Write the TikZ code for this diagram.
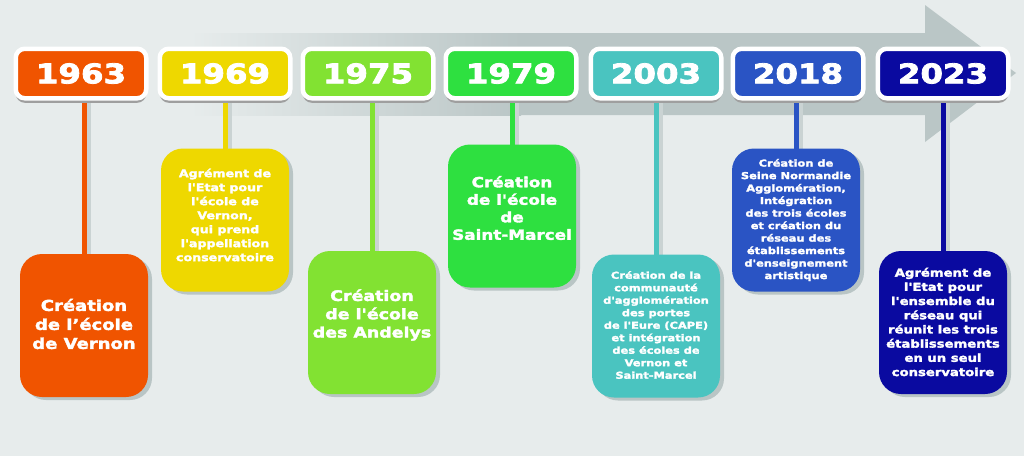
\documentclass[tikz,border=0pt]{standalone}
\usepackage{fontspec}
\newfontfamily\tlfont{DejaVu Sans Bold}[FakeStretch=1.2,FakeBold=2.4]
\newfontfamily\yrfont{DejaVu Sans Bold}[FakeStretch=1.2,FakeBold=3]
\usetikzlibrary{shadows}
\definecolor{bgc}{HTML}{E7ECEC}
\definecolor{arr}{HTML}{BAC6C6}
\definecolor{shd}{HTML}{B9C5C5}
\definecolor{stshd}{HTML}{CAD3D3}
\definecolor{cA}{HTML}{F05400}
\definecolor{cB}{HTML}{EED800}
\definecolor{cC}{HTML}{82E232}
\definecolor{cD}{HTML}{2EE040}
\definecolor{cE}{HTML}{4AC4C0}
\definecolor{cF}{HTML}{2A54C4}
\definecolor{cG}{HTML}{0A0AA0}
\pgfdeclarelayer{back}
\pgfdeclarelayer{mid}
\pgfsetlayers{back,mid,main}
\tikzset{
 yearbox/.style={fill=#1, draw=white, line width=4.5pt, rounded corners=9pt,
   minimum width=130.5pt, minimum height=49.5pt, inner sep=0pt, text=white,
   font=\yrfont\fontsize{27}{27}\selectfont,
   drop shadow={shadow xshift=0pt, shadow yshift=-4.5pt, fill=gray!75, opacity=1}},
 infobox/.style={fill=#1, rounded corners=22pt, minimum width=128pt,
   minimum height=143pt, inner sep=0pt,
   drop shadow={shadow xshift=4pt, shadow yshift=-3pt, fill=shd, opacity=1}},
 boxtext/.style={text=white, align=center, inner sep=0pt},
 stem/.style={draw=#1, line width=5pt},
 stemshadow/.style={draw=stshd, line width=4pt},
}
\begin{document}
\begin{tikzpicture}[x=1pt,y=-1pt]
\useasboundingbox (0,0) rectangle (1024,456);
\begin{pgfonlayer}{back}
\fill[bgc] (0,0) rectangle (1024,456);
\shade[left color=bgc, right color=arr] (190,33) rectangle (521,115);
\fill[arr] (520,33) -- (925,33) -- (925,5) -- (1016,73) -- (925,142) -- (925,115) -- (520,115) -- cycle;
\end{pgfonlayer}

% year boxes
\node[yearbox=cA] (y1) at (81,73.5) {1963};
\node[yearbox=cB] (y2) at (225,73.5) {1969};
\node[yearbox=cC] (y3) at (368,73.5) {1975};
\node[yearbox=cD] (y4) at (511,73.5) {1979};
\node[yearbox=cE] (y5) at (656,73.5) {2003};
\node[yearbox=cF] (y6) at (798,73.5) {2018};
\node[yearbox=cG] (y7) at (943,73.5) {2023};

% info boxes
\node[infobox=cA] (b1) at (84,325.5) {};
\node[infobox=cB] (b2) at (225,220) {};
\node[infobox=cC] (b3) at (372,322.5) {};
\node[infobox=cD] (b4) at (512,216) {};
\node[infobox=cE] (b5) at (656,326) {};
\node[infobox=cF] (b6) at (796,220) {};
\node[infobox=cG] (b7) at (943,322.5) {};

\node[boxtext, font=\tlfont\fontsize{15}{19}\selectfont] (t1) at (84,324)
  {Création\\de l’école\\de Vernon};
\node[boxtext, font=\tlfont\fontsize{10.5}{14}\selectfont] (t2) at (225,215)
  {Agrément de\\l'Etat pour\\l'école de\\Vernon,\\qui prend\\l'appellation\\conservatoire};
\node[boxtext, font=\tlfont\fontsize{14.5}{18.3}\selectfont] (t3) at (372,315)
  {Création\\de l'école\\des Andelys};
\node[boxtext, font=\tlfont\fontsize{14}{17.5}\selectfont] (t4) at (512,208)
  {Création\\de l'école\\de\\Saint-Marcel};
\node[boxtext, font=\tlfont\fontsize{9.5}{12.5}\selectfont] (t5) at (656,325)
  {Création de la\\communauté\\d'agglomération\\des portes\\de l'Eure (CAPE)\\et intégration\\des écoles de\\Vernon et\\Saint-Marcel};
\node[boxtext, font=\tlfont\fontsize{9.5}{12.5}\selectfont] (t6) at (796,220)
  {Création de\\Seine Normandie\\Agglomération,\\Intégration\\des trois écoles\\et création du\\réseau des\\établissements\\d'enseignement\\artistique};
\node[boxtext, font=\tlfont\fontsize{11}{14.2}\selectfont] (t7) at (943,322)
  {Agrément de\\l'Etat pour\\l'ensemble du\\réseau qui\\réunit les trois\\établissements\\en un seul\\conservatoire};

% stems
\begin{pgfonlayer}{mid}
\foreach \i/\c in {1/cA,2/cB,3/cC,4/cD,5/cE,6/cF,7/cG}{
  \draw[stemshadow] ([xshift=4.5pt,yshift=-2pt]b\i.north) -- ([xshift=4.5pt]b\i.north |- y\i.south);
  \draw[stem=\c] ([yshift=-2pt]b\i.north) -- (b\i.north |- y\i.south);
}
\end{pgfonlayer}
\end{tikzpicture}
\end{document}
